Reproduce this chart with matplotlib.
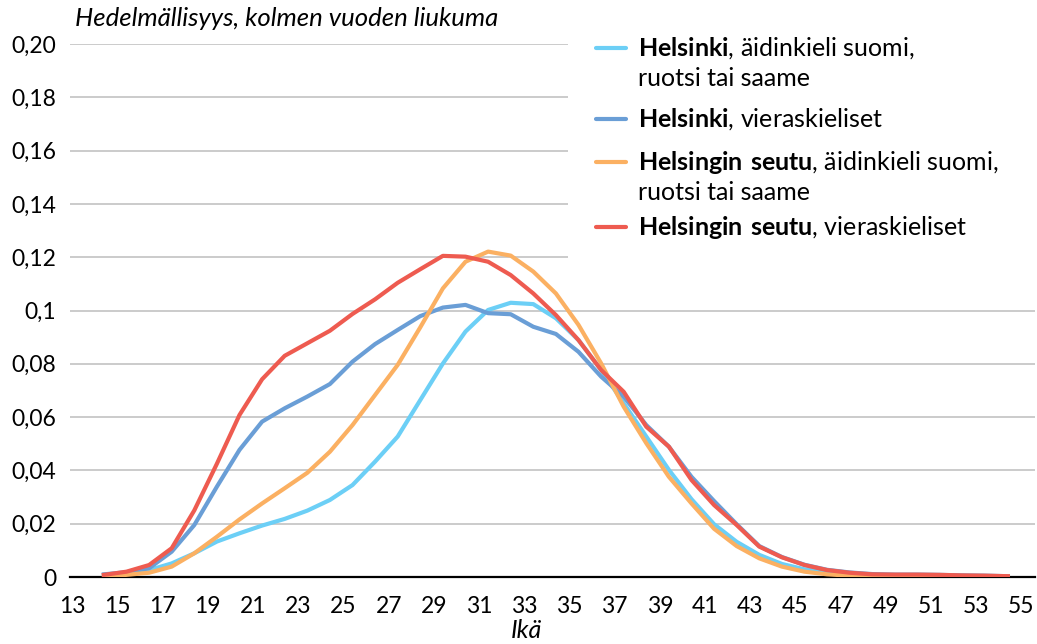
import matplotlib
matplotlib.use("Agg")
import matplotlib.pyplot as plt
from matplotlib.lines import Line2D
from matplotlib.patches import Rectangle
import numpy as np

plt.rcParams['font.family'] = ['Lato', 'DejaVu Sans']
plt.rcParams['mathtext.fontset'] = 'custom'
plt.rcParams['mathtext.rm'] = 'Lato'
plt.rcParams['mathtext.bf'] = 'Lato:bold'

# ikä (age), plotted at mid-year
ages = np.arange(14, 55)

hki_suomi = [0.0008, 0.0014, 0.0026, 0.0051, 0.0089, 0.0133, 0.0164, 0.0193, 0.0218, 0.0249,
             0.0289, 0.0345, 0.0433, 0.0527, 0.0664, 0.0801, 0.0921, 0.1002, 0.1029, 0.1024,
             0.0971, 0.0889, 0.0777, 0.0652, 0.0527, 0.0402, 0.0292, 0.0198, 0.0132, 0.0083,
             0.0049, 0.0029, 0.0016, 0.0009, 0.0005, 0.0004, 0.0003, 0.0003, 0.0002, 0.0002,
             0.0001]
hki_vieras = [0.0010, 0.0018, 0.0033, 0.0095, 0.0195, 0.0339, 0.0477, 0.0583, 0.0633, 0.0677,
              0.0724, 0.0808, 0.0874, 0.0927, 0.0979, 0.1011, 0.1021, 0.0990, 0.0986, 0.0939,
              0.0912, 0.0845, 0.0752, 0.0677, 0.0570, 0.0489, 0.0376, 0.0285, 0.0198, 0.0116,
              0.0075, 0.0046, 0.0027, 0.0017, 0.0011, 0.0009, 0.0009, 0.0008, 0.0006, 0.0005,
              0.0003]
seutu_suomi = [0.0003, 0.0008, 0.0016, 0.0039, 0.0089, 0.0151, 0.0216, 0.0276, 0.0333, 0.0391,
               0.0470, 0.0570, 0.0683, 0.0796, 0.0937, 0.1083, 0.1183, 0.1221, 0.1206, 0.1146,
               0.1064, 0.0946, 0.0802, 0.0639, 0.0502, 0.0376, 0.0276, 0.0181, 0.0116, 0.0070,
               0.0039, 0.0020, 0.0010, 0.0005, 0.0003, 0.0002, 0.0002, 0.0001, 0.0001, 0.0001,
               0.0001]
seutu_vieras = [0.0008, 0.0020, 0.0045, 0.0108, 0.0250, 0.0425, 0.0608, 0.0742, 0.0830, 0.0877,
                0.0924, 0.0987, 0.1042, 0.1104, 0.1155, 0.1205, 0.1202, 0.1183, 0.1133, 0.1064,
                0.0983, 0.0889, 0.0777, 0.0695, 0.0564, 0.0489, 0.0364, 0.0270, 0.0195, 0.0114,
                0.0074, 0.0045, 0.0026, 0.0016, 0.0010, 0.0009, 0.0009, 0.0008, 0.0006, 0.0005,
                0.0003]

series = [hki_suomi, hki_vieras, seutu_suomi, seutu_vieras]
colors = ["#6CCFF6", "#6A9ED6", "#FBB062", "#EE5B50"]
labels = [
    (r"$\mathbf{Helsinki}$, äidinkieli suomi,", "ruotsi tai saame"),
    (r"$\mathbf{Helsinki}$, vieraskieliset", None),
    (r"$\mathbf{Helsingin\ seutu}$, äidinkieli suomi,", "ruotsi tai saame"),
    (r"$\mathbf{Helsingin\ seutu}$, vieraskieliset", None),
]

xticks = list(range(13, 56, 2))
yticks = [0, 0.02, 0.04, 0.06, 0.08, 0.1, 0.12, 0.14, 0.16, 0.18, 0.20]
ytick_labels = ["0", "0,02", "0,04", "0,06", "0,08", "0,1", "0,12", "0,14", "0,16", "0,18", "0,20"]

W, H = 1037, 644
fig = plt.figure(figsize=(W / 100, H / 100), dpi=100)
ax = fig.add_axes([70 / W, 1 - 577 / H, (1035 - 70) / W, 533 / H])

for vals, c in zip(series, colors):
    ax.plot(ages + 0.4, vals, color=c, lw=3.0, solid_joinstyle='round', zorder=3)

ax.set_xlim(12.9, 55.6)
ax.set_ylim(0, 0.2)
ax.set_xticks(xticks)
ax.set_xticklabels([str(t) for t in xticks])
ax.set_yticks(yticks)
ax.set_yticklabels(ytick_labels)
ax.tick_params(axis='both', length=0, labelsize=16.5, colors='black')
ax.tick_params(axis='y', pad=10)
ax.tick_params(axis='x', pad=14)
ax.yaxis.grid(True, color='#BDBDBD', lw=1.1)
ax.set_axisbelow(True)
for s in ['left', 'right', 'top']:
    ax.spines[s].set_visible(False)
ax.spines['bottom'].set_color('black')
ax.spines['bottom'].set_linewidth(1.6)
ax.spines['bottom'].set_zorder(2.5)

fig.text(75 / W, 1 - 18 / H, "Hedelmällisyys, kolmen vuoden liukuma", fontsize=18.5,
         style='italic', va='center', ha='left')
fig.text(526 / W, 1 - 631 / H, "Ikä", fontsize=18, style='italic', va='center', ha='center')

# legend drawn by hand: white box over the gridlines
fig.add_artist(Rectangle((568 / W, 1 - 285 / H), (W - 568) / W, 285 / H,
                         transform=fig.transFigure, facecolor='white', edgecolor='none', zorder=4))
handle_y = [48, 119, 162, 227]
for (l1, l2), c, hy in zip(labels, colors, handle_y):
    fig.add_artist(Line2D([596 / W, 626 / W], [1 - hy / H, 1 - hy / H], color=c, lw=3.0,
                          solid_capstyle='round', transform=fig.transFigure, zorder=5))
    fig.text(638 / W, 1 - (hy + 8) / H, l1, fontsize=18, va='baseline', ha='left', zorder=6)
    if l2:
        fig.text(638 / W, 1 - (hy + 38) / H, l2, fontsize=18, va='baseline', ha='left', zorder=6)

fig.savefig("out.png", dpi=100)
